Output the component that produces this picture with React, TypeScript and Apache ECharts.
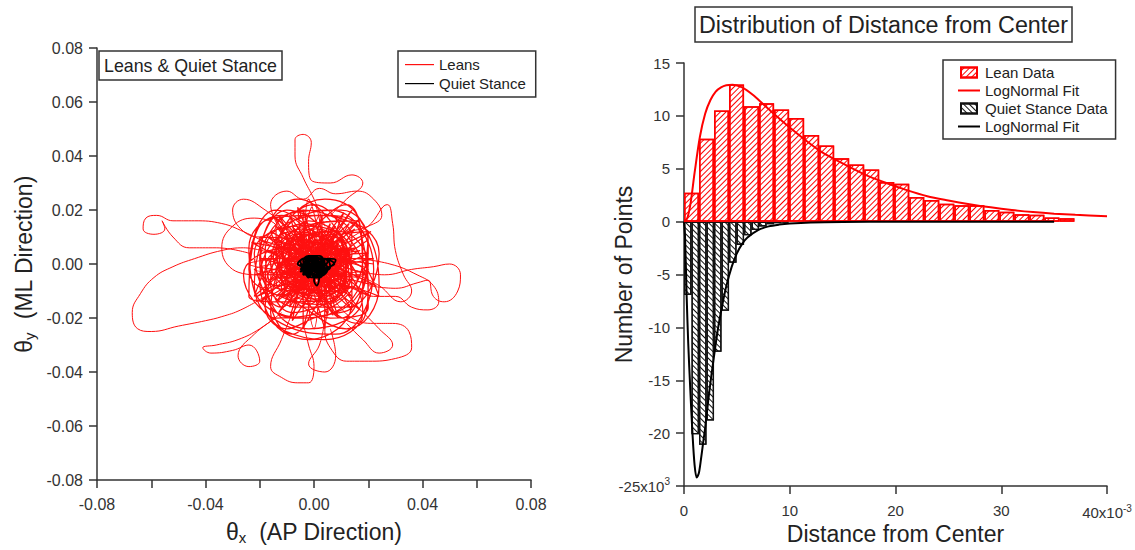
import React, { useEffect, useRef } from 'react';
import * as echarts from 'echarts';

const FONT = '"Liberation Sans", Arial, Helvetica, sans-serif';
const INK = '#222';

// ---------- Left panel: sway trajectories (units of 1e-3 rad) ----------
const leanCoreA: number[][] = [
  [-2, 3], [8, -10], [-12, -6], [5, 12], [14, -4], [-8, -18], [-18, 5], [3, 18], [20, 6], [10, -20],
  [-6, -2], [-22, -12], [-4, 14], [16, 16], [18, -12], [-2, -24], [-16, -14], [-20, 10], [0, 8], [12, 2],
  [6, -14], [-10, -10], [-14, 14], [6, 20], [22, -2], [8, -26], [-12, -22], [-26, -4], [-10, 6], [4, -4],
  [14, 10], [-4, 20], [-20, 0], [-6, -16], [12, -16], [24, 4], [10, 16], [-8, 10], [-16, -6], [-2, -12],
  [16, -22], [20, -6], [4, 6], [-12, 18], [-24, 6], [-14, -20], [2, -18], [18, 2], [12, 22], [-2, 12],
  [-18, -2], [-8, -26], [10, -8], [24, -12], [14, 8], [0, 22], [-14, 4], [-6, -8], [8, -2], [2, 14],
  [-10, 20], [-22, -8], [-4, -20], [16, -10], [20, 12], [6, 10], [-12, 0], [-18, -16], [4, -28], [18, -18],
  [10, 0], [-4, 6], [-16, 12], [-8, -4], [6, -20], [20, -16], [16, 14], [2, 18], [-18, 16], [-24, -12],
  [-10, -14], [8, -12], [12, 6], [-2, 0], [-12, -12], [0, -8], [14, -2], [6, 16], [-6, 24], [-20, 2],
  [-14, -8], [2, -2], [10, 12], [20, 0], [8, -18], [-8, -20], [-18, -10], [-4, 8], [8, 4], [0, -14],
  [-12, 8], [4, 24], [16, 18], [24, -8], [12, -24], [-4, -16], [-24, -2], [-14, 20], [2, 10], [16, -6],
  [4, -10], [-10, -4], [-2, 16], [14, 4], [6, -6], [-8, 2], [-16, -18], [-2, -28], [14, -14], [10, 10],
  [-6, 14], [-22, 4], [-12, -16], [0, -4], [12, -10], [4, 2], [-6, -10], [-16, 0], [-4, 18], [10, 20],
  [20, 8], [16, -14], [0, -20], [-10, -24], [-20, -6], [-8, 12], [6, 8], [12, -4], [2, -12], [-14, -2],
  [-4, 4], [8, 14], [0, 2],
];
const leanCoreB: number[][] = [
  [0, 2], [-6, -8], [7, -3], [-3, 9], [-11, 1], [4, -11], [10, 5], [-7, 11], [-12, -9], [3, -15],
  [13, -7], [6, 11], [-5, 3], [-14, -3], [-1, -10], [9, -12], [12, 2], [1, 13], [-9, 6], [-8, -13],
  [5, -6], [11, 9], [-2, 7], [-13, 8], [-6, -4], [8, -9], [2, 4], [-10, -6], [0, -13], [14, -2],
  [7, 7], [-4, 13], [-15, 2], [-4, -7], [6, -14], [10, -1], [3, 9], [-8, 1], [-11, -12], [2, -8],
  [12, 6], [-1, 11], [-12, 4], [-3, -3], [9, -6], [4, 12], [-6, 8], [-10, -2], [1, -5], [13, -9],
  [8, 2], [-3, 15], [-13, 9], [-9, -7], [5, -10], [13, 4], [0, 6], [-7, -11], [7, -1], [-2, -15],
  [-11, -11], [-14, -6], [-5, 10], [9, 12], [11, -4], [3, -2], [-5, -1], [4, 6], [-1, -7],
];
const leanCoreC: number[][] = [
  [22, 0], [-17, 5], [21, -12], [-14, 14], [8, -14], [-6, 21], [0, -24], [3, 18], [-9, -20], [13, 15],
  [-20, -14], [15, 6], [-22, -4], [20, -2], [-23, 8], [14, -12], [-13, 18], [7, -19], [-2, 24], [-4, -16],
  [11, 19], [-14, -14], [21, 12], [-17, -6], [22, 2], [-20, 2], [23, -8], [-13, 9], [14, -17], [-9, 18],
  [4, -24], [2, 18], [-8, -21], [15, 13], [-21, -12], [17, 5], [-22, -2], [20, -4], [-20, 9], [13, -9],
  [-15, 18], [9, -20], [-4, 20], [-4, -24], [6, 15], [-13, -18], [17, 17], [-14, -12], [20, 4], [-24, 0],
  [17, -5], [-17, 10], [17, -17], [-8, 14], [5, -19], [0, 22], [-9, -16], [14, 20], [-10, -12], [20, 9],
];
const leanCoreD: number[][] = [
  [12, 0], [-10, 2], [12, -5], [-8, 7], [5, -7], [-4, 12], [1, -11], [3, 10], [-6, -11], [8, 8],
  [-8, -5], [13, 3], [-11, -3], [10, -1], [-11, 6], [7, -9], [-7, 11], [3, -12], [-1, 13], [-3, -9],
  [6, 11], [-9, -9], [11, 6], [-10, -4], [12, 1], [-12, 1], [12, -4], [-7, 5], [8, -10], [-5, 11],
  [2, -13], [1, 9], [-4, -12], [9, 7], [-11, -6], [9, 2], [-13, -1], [11, -2], [-11, 5], [7, -5],
  [-8, 10], [5, -11], [-2, 11], [-2, -13], [3, 8], [-7, -10], [9, 9], [-8, -7], [11, 2], [-13, 0],
  [9, -3], [-9, 6], [9, -9], [-4, 8], [3, -10], [0, 12], [-5, -9], [8, 11], [-6, -7], [11, 5],
];
const leanTopLoop: number[][] = [
  [4, 14], [0, 24], [-4, 32], [-7, 40], [-7, 46], [-4, 48], [-1, 45], [-2, 38], [-1, 31], [6, 30],
  [14, 33], [18, 30], [12, 24], [6, 18],
];
const leanUpperMid: number[][] = [
  [-12, 12], [-16, 22], [-10, 27], [-4, 24], [2, 28], [8, 26], [16, 27], [22, 24], [25, 18], [20, 14], [12, 12],
];
const leanUpperRight: number[][] = [
  [10, 8], [20, 14], [27, 22], [29, 15], [30, 5], [33, -4], [36, -10], [32, -14], [24, -8], [16, -4],
];
const leanRightLoopA: number[][] = [
  [14, -2], [26, -4], [36, -2], [44, -1], [50, 0], [54, -4], [53, -10], [48, -14], [44, -12], [42, -6],
  [38, -7], [30, -9], [20, -8],
];
const leanRightLoopB: number[][] = [
  [16, 2], [28, 0], [38, -4], [44, -8], [46, -14], [42, -17], [36, -16], [30, -12], [22, -12], [14, -8],
];
const leanLowerRight: number[][] = [
  [6, -16], [4, -24], [6, -31], [12, -36], [20, -36], [30, -35], [36, -31], [35, -25], [29, -22], [22, -22],
  [14, -20], [8, -14],
];
const leanLowerRightB: number[][] = [
  [16, -16], [24, -24], [29, -30], [24, -33], [18, -28], [12, -22],
];
const leanBottom: number[][] = [
  [-8, -18], [-12, -28], [-16, -38], [-12, -42], [-6, -44], [-2, -44], [0, -38], [-2, -30], [-4, -22],
];
const leanBottomB: number[][] = [
  [4, -20], [2, -30], [-2, -37], [4, -40], [8, -34], [6, -24],
];
const leanLowerLeft: number[][] = [
  [-12, -18], [-20, -24], [-28, -28], [-36, -30], [-41, -31], [-38, -33], [-30, -32], [-24, -30], [-20, -36],
  [-24, -38], [-28, -34], [-22, -26], [-14, -20],
];
const leanBigLeftLoop: number[][] = [
  [-16, 4], [-26, 6], [-34, 5], [-44, 2], [-52, -1], [-59, -5], [-64, -11], [-67, -18], [-65, -24],
  [-60, -25], [-50, -23], [-40, -21], [-34, -19.5], [-27, -17], [-18, -12],
];
const leanLeftSmallLoop: number[][] = [
  [-18, 8], [-26, 12], [-34, 15], [-44, 16], [-52, 16], [-58, 18], [-62, 17], [-63, 13], [-59, 11],
  [-55, 13], [-56, 16], [-52, 10], [-46, 6], [-36, 6], [-24, 4],
];
const leanUpperLeft: number[][] = [
  [-8, 12], [-18, 20], [-26, 24], [-30, 20], [-27, 13], [-20, 10], [-14, 14], [-22, 17], [-30, 14],
  [-34, 6], [-30, -2], [-22, -4],
];
const quietPath: number[][] = [
  [0, -1], [3, -3], [-2, -4], [-4, 0], [1, 2], [4, 0], [2, -5], [-3, -2], [-5, 1], [0, 2.5],
  [5, -2], [1, -5], [-2, -1], [3, 1], [-1, -3], [-4, -4], [-2, 2], [4, 2], [6, -1], [2, -3],
  [-3, 1], [0, -4], [3, -1], [-1, 1], [-5, -2], [1, -2], [5, 1], [2, 2], [-2, -5], [-4, 2],
  [0, 0], [4, -4], [1, 1], [-3, -3], [2, -1], [-1, 2], [3, -4.5], [0, -2], [-6, 0], [-2, 2.5],
  [7.5, 0], [4, -2], [0, -6], [1, -8], [2, -4], [-1, 0], [2, 1], [-3, -1], [1, -3], [8, 1.5],
  [5, 2], [2, 0], [-4, -1], [-1, -4], [3, 2.5], [0, 1], [-5, -3], [-2, 0], [2, -2], [-1, -5],
  [4, -3], [-3, 2], [1, 0], [-4, -2], [3, 0], [0, -3], [-2, 1], [5, -1], [-1, -2], [2, 2],
  [-3, 0], [1, -4], [4, 1], [-1, -1], [-5, 0], [-3, -4], [0, -5], [4, -1], [2, 3], [-2, 3],
  [-4, 1], [-1, -2], [3, -2], [1, 2], [-2, -3], [0, 0],
];

// ---------- Right panel: histograms (x in 1e-3, counts in 1e3) ----------
const leanBinWidth = 1.42;
const leanCounts = [
  2.74, 7.83, 10.5, 12.96, 10.9, 11.2, 10.6, 9.8, 8.2, 7.2, 6.0, 5.4, 4.94,
  3.74, 3.58, 2.33, 2.04, 1.7, 1.54, 1.54, 1.1, 0.94, 0.69, 0.66, 0.38, 0.31,
];
const quietBinWidth = 0.71;
const quietCounts = [
  -6.95, -20.1, -21.1, -18.8, -12.3, -8.43, -3.9, -2.2, -1.3, -0.8, -0.45, -0.25, -0.15, -0.1,
];
const leanFit: number[][] = [
  [0, 0], [0.3, 0.3], [0.6, 1.6], [1.0, 4.6], [1.5, 8.0], [2.0, 10.2], [2.5, 11.5], [3.0, 12.3],
  [3.5, 12.7], [4.0, 12.9], [4.6, 12.95], [5.5, 12.7], [6.5, 12.0], [7.5, 11.1], [8.5, 10.2],
  [10, 8.9], [11.5, 7.7], [13, 6.6], [15, 5.5], [17, 4.5], [19, 3.7], [21, 3.0], [23, 2.4],
  [25, 2.0], [27, 1.65], [29, 1.35], [31, 1.1], [33, 0.9], [35, 0.75], [37, 0.64], [40, 0.52],
];
const quietFit: number[][] = [
  [0, 0], [0.1, -1.5], [0.25, -7], [0.4, -11.5], [0.6, -16], [0.8, -20], [1.0, -23], [1.2, -24.2],
  [1.4, -23.8], [1.6, -22.5], [1.8, -21], [2.0, -19.5], [2.4, -16], [2.8, -13], [3.2, -10.2],
  [3.6, -8], [4.0, -6.1], [4.5, -4.3], [5.0, -3.0], [5.5, -2.1], [6.0, -1.5], [7.0, -0.8],
  [8.0, -0.45], [9.0, -0.28], [10, -0.18], [12, -0.08], [15, -0.03], [20, -0.01], [35, 0],
];

const xLeftTicks = { min: -80, max: 80, interval: 20 };
const yRight = { min: -25, max: 15, interval: 5 };
const xRight = { min: 0, max: 40, interval: 10 };

const leanCoreParts = [leanCoreA, leanCoreB, leanCoreC, leanCoreD];
const leanOuterParts = [
  leanTopLoop, leanUpperMid, leanUpperRight, leanRightLoopA, leanRightLoopB,
  leanLowerRight, leanLowerRightB, leanBottom, leanBottomB, leanLowerLeft, leanBigLeftLoop,
  leanLeftSmallLoop, leanUpperLeft,
];

const RG = { left: 684, top: 63, width: 423, height: 424 };

const BAR_ICON = 'path://M0,0M3,0h16v10h-16zM22,10';
const FIT_ICON = 'path://M0,0M0,4h22v2h-22zM22,10';
const TRACE_ICON = 'path://M0,0M0,5.5h29v1.2h-29zM29,12';

function buildOption(): any {
  const axisLine = { show: true, onZero: false, lineStyle: { color: '#333', width: 1.5 } };
  const axisTick = { show: true, length: 8, lineStyle: { color: '#333', width: 1.5 } };
  const leanBarPx = (RG.width * leanBinWidth) / (xRight.max - xRight.min);
  const quietBarPx = (RG.width * quietBinWidth) / (xRight.max - xRight.min);
  const subRich = {
    t: { fontSize: 23, fontFamily: FONT, color: INK },
    s: { fontSize: 15, fontFamily: FONT, color: INK, padding: [12, 0, 0, 0] },
  };
  const supRich = {
    n: { fontSize: 15, color: '#333', fontFamily: FONT },
    p: { fontSize: 10, color: '#333', fontFamily: FONT, padding: [0, 0, 9, 0] },
  };

  const leanLine = (p: number[][], w: number) => ({
    type: 'line', name: 'Leans', xAxisIndex: 0, yAxisIndex: 0, data: p,
    symbol: 'none', smooth: 0.45, smoothConstraint: false,
    lineStyle: { color: '#ff1010', width: w },
    itemStyle: { color: '#ff1010' }, z: 2,
  });
  const leftSeries = [
    ...leanOuterParts.map((p) => leanLine(p, 1)),
    ...leanCoreParts.map((p) => leanLine(p, 1.25)),
  ];

  return {
    animation: false,
    backgroundColor: '#fff',
    textStyle: { fontFamily: FONT },
    title: [
      {
        text: 'Leans & Quiet Stance', left: 99, top: 51, padding: [5, 5],
        borderColor: '#333', borderWidth: 1.5,
        textStyle: { fontSize: 17.8, fontWeight: 'normal', color: INK, fontFamily: FONT, lineHeight: 19 },
      },
      {
        text: 'Distribution of Distance from Center', left: 695, top: 7, padding: [4, 4],
        borderColor: '#333', borderWidth: 1.5,
        textStyle: { fontSize: 23.3, fontWeight: 'normal', color: INK, fontFamily: FONT, lineHeight: 27 },
      },
    ],
    legend: [
      {
        data: [
          { name: 'Leans', icon: TRACE_ICON },
          { name: 'Quiet Stance', icon: TRACE_ICON },
        ],
        left: 398, top: 51, orient: 'vertical',
        padding: [6, 10, 6, 7], itemGap: 4, itemWidth: 29, itemHeight: 12, itemTextGap: 8,
        borderColor: '#333', borderWidth: 1.5, backgroundColor: '#fff',
        textStyle: { fontSize: 15, color: INK, fontFamily: FONT },
        selectedMode: false,
      },
      {
        data: [
          { name: 'Lean Data', icon: BAR_ICON },
          { name: 'LogNormal Fit (Lean)', icon: FIT_ICON },
          { name: 'Quiet Stance Data', icon: BAR_ICON },
          { name: 'LogNormal Fit (Quiet)', icon: FIT_ICON },
        ],
        formatter: (n: string) => (n.indexOf('LogNormal') === 0 ? 'LogNormal Fit' : n),
        left: 943, top: 60, orient: 'vertical',
        padding: [5, 8, 5, 14], itemGap: 3, itemWidth: 22, itemHeight: 10, itemTextGap: 7,
        borderColor: '#333', borderWidth: 1.5, backgroundColor: '#fff',
        textStyle: { fontSize: 15, color: INK, fontFamily: FONT },
        selectedMode: false,
      },
    ],
    grid: [
      { left: 97, top: 48, width: 434, height: 435 },
      { left: RG.left, top: RG.top, width: RG.width, height: RG.height },
    ],
    xAxis: [
      {
        type: 'value', gridIndex: 0, ...xLeftTicks,
        axisLine, axisTick, splitLine: { show: false },
        axisLabel: {
          margin: 16, fontSize: 16, color: '#333', fontFamily: FONT,
          formatter: (v: number) => (Math.round(v) % 40 === 0 ? (v / 1000).toFixed(2) : ''),
        },
        name: '{t|θ}{s|x}{t|  (AP Direction)}', nameLocation: 'middle', nameGap: 38,
        nameMoveOverlap: false,
        nameTextStyle: { color: INK, fontFamily: FONT, rich: subRich },
      },
      {
        type: 'value', gridIndex: 1, ...xRight,
        axisLine, axisTick, splitLine: { show: false },
        axisLabel: {
          margin: 17, fontSize: 15, color: '#333', fontFamily: FONT,
          formatter: (v: number) => (v === xRight.max ? '{n|' + v + 'x10}{p|-3}' : String(v)),
          rich: supRich,
        },
        name: 'Distance from Center', nameLocation: 'middle', nameGap: 36,
        nameMoveOverlap: false,
        nameTextStyle: { fontSize: 23, color: INK, fontFamily: FONT },
      },
      { type: 'value', gridIndex: 1, ...xRight, show: false },
    ],
    yAxis: [
      {
        type: 'value', gridIndex: 0, ...xLeftTicks,
        axisLine, axisTick, splitLine: { show: false },
        axisLabel: {
          margin: 14, fontSize: 16, color: '#333', fontFamily: FONT,
          formatter: (v: number) => (v / 1000).toFixed(2),
        },
        name: '{t|θ}{s|y}{t|  (ML Direction)}', nameLocation: 'middle', nameGap: 60,
        nameMoveOverlap: false,
        nameTextStyle: { color: INK, fontFamily: FONT, rich: subRich },
      },
      {
        type: 'value', gridIndex: 1, ...yRight,
        axisLine, axisTick, splitLine: { show: false },
        axisLabel: {
          margin: 14, fontSize: 15, color: '#333', fontFamily: FONT,
          formatter: (v: number) => (v === yRight.min ? '{n|' + v + 'x10}{p|3}' : String(v)),
          rich: supRich,
        },
        name: 'Number of Points', nameLocation: 'middle', nameGap: 49,
        nameMoveOverlap: false,
        nameTextStyle: { fontSize: 23, color: INK, fontFamily: FONT },
      },
    ],
    series: [
      ...leftSeries,
      {
        type: 'line', name: 'Quiet Stance', xAxisIndex: 0, yAxisIndex: 0, data: quietPath,
        symbol: 'none', smooth: 0.45, smoothConstraint: false,
        lineStyle: { color: '#000', width: 1.8 }, itemStyle: { color: '#000' }, z: 3,
      },
      {
        type: 'bar', name: 'Quiet Stance Data', xAxisIndex: 2, yAxisIndex: 1,
        data: quietCounts.map((v, i) => [(i + 0.5) * quietBinWidth, v]),
        barWidth: quietBarPx,
        itemStyle: {
          color: '#fff', borderColor: '#111', borderWidth: 1.3,
          decal: { symbol: 'rect', symbolSize: 1, dashArrayX: [1, 0], dashArrayY: [1, 3], rotation: Math.PI / 4, color: '#111' },
        },
        z: 2,
      },
      {
        type: 'bar', name: 'Lean Data', xAxisIndex: 1, yAxisIndex: 1,
        data: leanCounts.map((v, i) => [(i + 0.5) * leanBinWidth, v]),
        barWidth: leanBarPx,
        itemStyle: {
          color: '#fff', borderColor: '#ff0000', borderWidth: 1.5,
          decal: { symbol: 'rect', symbolSize: 1, dashArrayX: [1, 0], dashArrayY: [1, 3], rotation: -Math.PI / 4, color: '#ff0000' },
        },
        z: 2,
      },
      {
        type: 'line', name: 'LogNormal Fit (Quiet)', xAxisIndex: 1, yAxisIndex: 1, data: quietFit,
        symbol: 'none', smooth: 0.3, lineStyle: { color: '#000', width: 2 }, itemStyle: { color: '#000' }, z: 4,
      },
      {
        type: 'line', name: 'LogNormal Fit (Lean)', xAxisIndex: 1, yAxisIndex: 1, data: leanFit,
        symbol: 'none', smooth: 0.3, lineStyle: { color: '#ff0000', width: 2 }, itemStyle: { color: '#ff0000' }, z: 4,
      },
    ],
  };
}

export default function App() {
  const ref = useRef<HTMLDivElement>(null);
  useEffect(() => {
    document.body.style.margin = '0';
    const chart = echarts.init(ref.current as HTMLDivElement, undefined, { renderer: 'svg' });
    chart.setOption(buildOption());
    return () => chart.dispose();
  }, []);
  return <div ref={ref} style={{ width: 1135, height: 550 }} />;
}
